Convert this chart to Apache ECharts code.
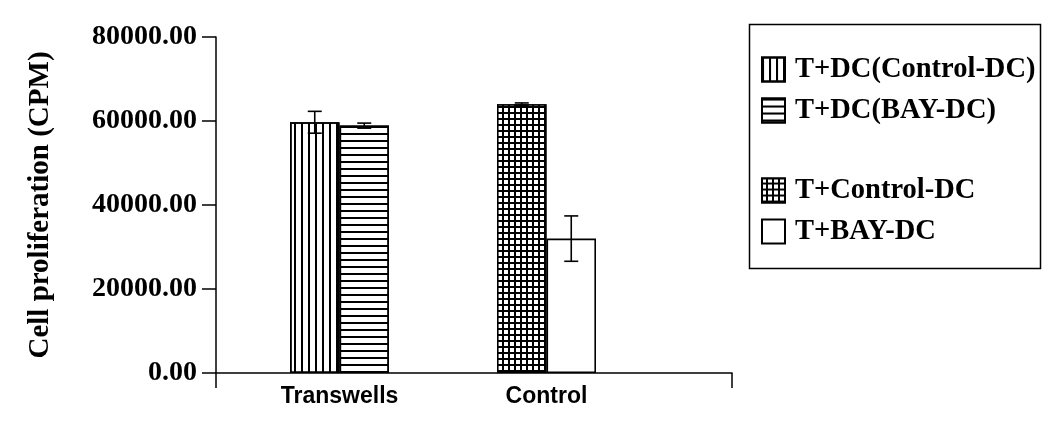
<!DOCTYPE html>
<html>
<head>
<meta charset="utf-8">
<script src="https://cdn.jsdelivr.net/npm/echarts@6/dist/echarts.min.js"></script>
<style>
html,body{margin:0;padding:0;background:#fff;}
#chart{width:1050px;height:425px;}
</style>
</head>
<body>
<div id="chart"></div>
<script>
// ---- data ----
const categories = ['Transwells', 'Control'];
const seriesNames = ['T+DC(Control-DC)', 'T+DC(BAY-DC)', 'T+Control-DC', 'T+BAY-DC'];
const tdcControlDC = [59700, '-'];
const tdcBayDC = [58900, '-'];
const tControlDC = ['-', 64000];
const tBayDC = ['-', 32000];
const errTdcControlDC = [2600, null];
const errTdcBayDC = [600, null];
const errTControlDC = [null, 300];
const errTBayDC = [null, 5400];
const yMin = 0, yMax = 80000, yStep = 20000;

// ---- styles ----
const BAR_W = 49.5;
const serif = 'Liberation Serif';
const sans = 'Liberation Sans';

const chart = echarts.init(document.getElementById('chart'), null, {renderer: 'canvas'});

const values = [tdcControlDC, tdcBayDC, tControlDC, tBayDC];
const errs = [errTdcControlDC, errTdcBayDC, errTControlDC, errTBayDC];
const side = [-1, 1, -1, 1];
const stacks = ['a', 'b', 'a', 'b'];
const styles = [
  {color: '#fff', decal: {symbol: 'rect', symbolSize: 1, color: '#000', dashArrayX: [1.6, 4.1], dashArrayY: [20, 0]}},
  {color: '#fff', decal: {symbol: 'rect', symbolSize: 1, color: '#000', dashArrayX: [20, 0], dashArrayY: [1.7, 4.3]}},
  {color: '#000', decal: {symbol: 'rect', symbolSize: 1, color: '#fff', dashArrayX: [3.5, 2], dashArrayY: [3.5, 2]}},
  {color: '#fff'}
];

const errData = [];
values.forEach((vals, s) => {
  vals.forEach((v, i) => {
    if (typeof v === 'number' && errs[s][i] != null) errData.push([i, v, errs[s][i], side[s]]);
  });
});

const barSeries = seriesNames.map((name, s) => ({
  name: name,
  type: 'bar',
  xAxisIndex: 0,
  yAxisIndex: 0,
  stack: stacks[s],
  barWidth: BAR_W,
  barGap: '0%',
  data: values[s],
  itemStyle: Object.assign({borderColor: '#000', borderWidth: 1.6}, styles[s]),
  emphasis: {disabled: true},
  animation: false
}));

const errSeries = {
  name: 'err',
  type: 'custom',
  xAxisIndex: 0,
  yAxisIndex: 0,
  z: 10,
  animation: false,
  silent: true,
  dimensions: ['x', 'y', 'e', 's'],
  encode: {x: 0, y: 1},
  data: errData,
  renderItem: function (params, api) {
    const idx = api.value(0), v = api.value(1), e = api.value(2), sd = api.value(3);
    const hi = api.coord([idx, v + e]);
    const lo = api.coord([idx, v - e]);
    const cx = hi[0] + sd * BAR_W / 2;
    const cap = 7;
    const st = {stroke: '#000', lineWidth: 1.6};
    return {
      type: 'group',
      children: [
        {type: 'line', shape: {x1: cx, y1: hi[1], x2: cx, y2: lo[1]}, style: st},
        {type: 'line', shape: {x1: cx - cap, y1: hi[1], x2: cx + cap, y2: hi[1]}, style: st},
        {type: 'line', shape: {x1: cx - cap, y1: lo[1], x2: cx + cap, y2: lo[1]}, style: st}
      ]
    };
  }
};

const legendCommon = {
  orient: 'vertical',
  left: 761,
  padding: 0,
  itemWidth: 23,
  itemHeight: 24,
  itemGap: 12,
  icon: 'rect',
  selectedMode: false,
  itemStyle: {borderWidth: 2},
  textStyle: {fontFamily: serif, fontWeight: 'bold', fontSize: 28.5, color: '#000', lineHeight: 28, padding: [0, 0, 0, 5]}
};

const option = {
  backgroundColor: '#fff',
  animation: false,
  legend: [
    Object.assign({}, legendCommon, {top: 55, data: seriesNames.slice(0, 2)}),
    Object.assign({}, legendCommon, {top: 176, data: seriesNames.slice(2, 4)})
  ],
  graphic: [{
    type: 'rect', left: 747, top: 22,
    shape: {width: 291, height: 244},
    style: {fill: 'none', stroke: '#000', lineWidth: 1.5}
  }],
  grid: [
    {left: 236, right: 400, top: 37, bottom: 52},
    {left: 216, right: 318, top: 37, bottom: 52}
  ],
  xAxis: [
    {
      type: 'category', gridIndex: 0, data: categories,
      axisLine: {show: false}, axisTick: {show: false}, splitLine: {show: false},
      axisLabel: {fontFamily: sans, fontWeight: 'bold', fontSize: 23, color: '#000', margin: 12}
    },
    {
      type: 'category', gridIndex: 1, data: [''],
      axisLine: {show: true, lineStyle: {color: '#000', width: 1.5}},
      axisTick: {show: true, length: 15, lineStyle: {color: '#000', width: 1.5}},
      axisLabel: {show: false}, splitLine: {show: false}
    }
  ],
  yAxis: [
    {type: 'value', gridIndex: 0, min: yMin, max: yMax, interval: yStep, show: false},
    {
      type: 'value', gridIndex: 1, min: yMin, max: yMax, interval: yStep,
      name: 'Cell proliferation (CPM)', nameLocation: 'middle', nameGap: 161, nameRotate: 90,
      nameTextStyle: {fontFamily: serif, fontWeight: 'bold', fontSize: 29, color: '#000'},
      axisLine: {show: true, lineStyle: {color: '#000', width: 1.5}},
      axisTick: {show: true, length: 14, lineStyle: {color: '#000', width: 1.5}},
      splitLine: {show: false},
      axisLabel: {
        fontFamily: serif, fontWeight: 'bold', fontSize: 28, color: '#000', margin: 19,
        formatter: v => v.toFixed(2)
      }
    }
  ],
  series: barSeries.concat([errSeries])
};

chart.setOption(option);
</script>
</body>
</html>
